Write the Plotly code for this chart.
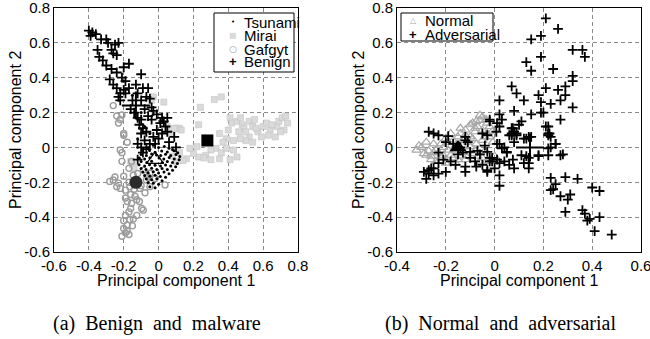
import plotly.graph_objects as go

# ---------------- data ----------------
benign_pts = [(-0.40,0.67),(-0.38,0.66),(-0.36,0.65),(-0.39,0.64),(-0.33,0.62),(-0.30,0.62),(-0.35,0.56),(-0.34,0.52),
 (-0.29,0.60),(-0.25,0.59),(-0.23,0.60),(-0.27,0.56),(-0.26,0.54),(-0.24,0.53),(-0.30,0.47),(-0.27,0.45),(-0.24,0.43),
 (-0.17,0.48),(-0.20,0.46),(-0.28,0.39),(-0.26,0.36),(-0.24,0.34),(-0.22,0.31),(-0.19,0.38),(-0.17,0.34),(-0.19,0.31),
 (-0.22,0.27),(-0.15,0.27),(-0.12,0.31),(-0.10,0.42),(-0.09,0.34),(-0.06,0.34),(-0.07,0.29),(-0.10,0.27),(-0.04,0.23),
 (-0.03,0.21),(-0.01,0.19),(0.02,0.17),(0.03,0.15),(0.04,0.12),(0.05,0.09),(0.09,0.06),(0.10,0.00),(-0.12,0.17),
 (-0.10,0.16),(-0.09,0.11),(-0.07,0.09),(-0.10,0.08),(-0.12,0.02),(-0.10,0.00),(-0.07,-0.01),(-0.05,0.02),(-0.03,0.06),
 (-0.01,0.10),(0.01,0.14),(-0.06,0.18),(-0.04,0.16),(-0.12,-0.07),(-0.08,0.04),(-0.11,0.13),(-0.14,0.20),(-0.08,0.22),
 (-0.05,0.28),(0.00,0.05),(0.02,0.08),(-0.32,0.50),(-0.21,0.40),(-0.13,0.36),(0.06,0.03),(-0.02,0.02),(-0.09,-0.03),
 (-0.23,0.29),(-0.20,0.33),(-0.16,0.22),(0.05,0.17)]

gafgyt_pts = [(-0.26,0.24),(-0.24,0.18),(-0.22,0.16),(-0.23,0.14),(-0.20,0.07),(-0.18,0.03),(-0.21,-0.03),(-0.21,-0.08),
 (-0.21,0.186),(-0.20,0.08),(-0.22,-0.015),(-0.155,-0.08),(-0.17,-0.12),(-0.26,-0.187),(-0.28,-0.195),(-0.23,-0.205),
 (-0.20,-0.165),(-0.22,-0.235),(-0.19,-0.245),(-0.165,-0.225),(-0.07,-0.187),(-0.05,-0.225),(-0.078,-0.26),(-0.107,-0.235),
 (0.037,-0.215),(-0.125,-0.30),(-0.155,-0.32),(-0.18,-0.31),(-0.097,-0.35),(-0.088,-0.36),(-0.17,-0.37),(-0.19,-0.39),
 (-0.165,-0.415),(-0.18,-0.445),(-0.20,-0.465),(-0.19,-0.49),(-0.21,-0.51),(-0.18,-0.48),(-0.145,-0.41),(-0.125,-0.39),
 (-0.135,-0.28),(-0.16,-0.27),(-0.115,-0.20),(-0.145,-0.16),(-0.087,-0.13),(-0.05,-0.148),(-0.02,-0.178),(-0.24,-0.225),
 (-0.25,-0.17),(-0.17,-0.20),(-0.14,-0.24),(-0.16,-0.35),(-0.20,-0.42),(-0.17,-0.50),(-0.10,-0.22),(-0.06,-0.17),
 (-0.11,-0.31),(-0.15,-0.45),(-0.19,-0.29),(-0.12,-0.15)]

mirai_pts = [(0.32,0.275),(0.36,0.29),(0.24,0.23),(0.23,0.13),(0.12,0.11),(0.13,0.10),(0.41,0.17),(0.42,0.14),(0.45,0.15),
 (0.47,0.17),(0.48,0.13),(0.52,0.15),(0.54,0.12),(0.55,0.16),(0.57,0.09),(0.60,0.12),(0.62,0.14),(0.64,0.10),(0.68,0.12),
 (0.69,0.15),(0.71,0.17),(0.73,0.18),(0.74,0.14),(0.72,0.10),(0.67,0.06),(0.63,0.07),(0.59,0.06),(0.52,0.06),(0.50,0.04),
 (0.47,0.05),(0.43,0.04),(0.39,0.05),(0.35,0.08),(0.40,0.10),(0.37,0.03),(0.33,-0.005),(0.36,-0.03),(0.39,-0.005),
 (0.43,-0.015),(0.30,-0.015),(0.27,-0.045),(0.23,-0.055),(0.20,-0.035),(0.18,-0.005),(0.22,0.005),(0.26,-0.06),(0.30,-0.07),
 (0.16,-0.065),(0.14,-0.075),(0.10,0.11),(0.07,0.08),(0.49,0.11),(0.50,0.09),(0.46,0.09),(0.56,0.11),(0.65,0.13),(0.70,0.09),
 (0.45,-0.055),(0.41,-0.07),(0.35,-0.065),(0.54,0.03),(-0.04,0.27),(0.03,0.26),(-0.03,0.29),(0.05,0.12),(0.09,0.11),
 (-0.15,-0.10),(-0.14,-0.12),(-0.16,-0.08),(0.12,-0.03),(0.10,-0.08),(0.08,-0.05)]

tsunami_pts = [(-0.06,0.0),(-0.03,0.012),(0.0,0.0),(0.033,0.006),(0.06,-0.004),(0.08,-0.012),
 (-0.09,-0.02),(-0.052,-0.018),(-0.02,-0.027),(0.018,-0.021),(0.05,-0.026),(0.088,-0.019),(0.11,-0.031),
 (-0.10,-0.04),(-0.07,-0.047),(-0.04,-0.038),(-0.012,-0.043),(0.012,-0.047),(0.04,-0.039),(0.07,-0.046),(0.10,-0.041),(0.122,-0.052),
 (-0.11,-0.06),(-0.08,-0.066),(-0.05,-0.059),(0.003,-0.061),(0.03,-0.067),(0.061,-0.058),(0.09,-0.066),(0.118,-0.071),
 (-0.10,-0.081),(-0.068,-0.087),(-0.04,-0.079),(0.021,-0.086),(0.05,-0.081),(0.08,-0.086),(0.108,-0.092),
 (-0.112,-0.10),(-0.08,-0.106),(-0.052,-0.099),(-0.02,-0.102),(0.011,-0.107),(0.04,-0.101),(0.07,-0.106),(0.098,-0.111),
 (-0.10,-0.121),(-0.072,-0.127),(-0.04,-0.119),(-0.01,-0.126),(0.02,-0.121),(0.05,-0.127),(0.08,-0.131),
 (-0.09,-0.141),(-0.06,-0.146),(-0.03,-0.139),(0.0,-0.147),(0.031,-0.141),(0.06,-0.151),
 (-0.08,-0.161),(-0.05,-0.166),(-0.02,-0.159),(0.01,-0.167),(0.04,-0.171),
 (-0.07,-0.181),(-0.04,-0.186),(-0.01,-0.179),(0.02,-0.191),
 (-0.06,-0.201),(-0.03,-0.206),(0.0,-0.211),(-0.05,-0.226),(-0.02,-0.231),
 (-0.12,0.05),(-0.08,0.12),(-0.10,0.20),(-0.15,0.30),(-0.05,0.08),(-0.20,0.38)]

normal_pts = [(-0.32,-0.015),(-0.30,0.00),(-0.29,-0.035),(-0.25,0.02),(-0.24,-0.015),(-0.26,-0.05),(-0.21,0.00),(-0.17,0.04),
 (-0.14,0.08),(-0.12,0.10),(-0.09,0.14),(-0.075,0.15),(-0.06,0.185),(-0.05,0.175),(-0.06,0.155),(-0.03,0.14),(-0.08,0.09),
 (-0.05,0.10),(-0.02,0.12),(-0.10,0.06),(-0.16,-0.015),(-0.18,-0.045),(-0.14,-0.05),(-0.10,0.005),(-0.075,0.02),(-0.05,0.04),
 (-0.12,-0.07),(-0.09,-0.035),(-0.06,-0.08),(-0.20,-0.09),(-0.22,-0.06),(-0.26,-0.07),(-0.28,-0.045),(-0.16,-0.09),
 (-0.13,0.04),(-0.16,0.01),(-0.19,-0.015),(-0.14,0.11),(-0.02,0.06),(-0.007,0.03),(-0.03,0.08),(-0.10,0.13),(-0.18,0.08),
 (-0.09,0.05),(-0.21,-0.045),(-0.23,-0.03),(-0.27,-0.02),(-0.11,-0.02),(-0.07,-0.05),(-0.04,-0.02),(-0.15,0.06),(-0.19,0.03),
 (-0.13,-0.03),(-0.08,0.11),(-0.035,0.16),(-0.22,0.02),(-0.17,-0.06),(-0.24,-0.08),(0.00,-0.05),(-0.02,-0.08),
 (-0.31,0.01),(-0.28,0.03),(-0.25,-0.03),(-0.20,0.05),(-0.12,0.07),(-0.07,0.12),(-0.04,0.06),(-0.01,0.09),(-0.11,0.03),
 (-0.15,-0.07),(-0.08,-0.02),(-0.05,-0.06)]

adversarial_pts = [(0.21,0.74),(0.26,0.68),(0.15,0.62),(0.19,0.64),(0.32,0.56),(0.36,0.56),(0.37,0.52),(0.19,0.52),(0.13,0.49),
 (0.15,0.44),(0.24,0.45),(0.32,0.41),(0.32,0.38),(0.07,0.35),(0.09,0.31),(0.02,0.27),(0.12,0.27),(0.18,0.30),(0.21,0.34),
 (0.26,0.33),(0.29,0.35),(0.29,0.30),(0.27,0.27),(0.23,0.25),(0.19,0.26),(0.32,0.23),(0.08,0.21),(0.15,0.19),(0.19,0.20),
 (0.20,0.20),(0.27,0.16),(0.02,0.19),(0.03,0.16),(0.11,0.15),(-0.02,0.15),(0.22,0.12),(0.22,0.08),(0.23,0.06),(0.07,0.11),
 (0.08,0.09),(0.02,0.12),(0.06,0.07),(0.13,0.05),(0.15,0.06),(0.25,0.02),(0.23,0.00),(0.28,-0.04),(0.18,-0.05),(0.14,-0.06),
 (0.23,-0.175),(0.29,-0.17),(0.34,-0.18),(0.24,-0.24),(0.23,-0.245),(0.25,-0.21),(0.27,-0.28),(0.31,-0.27),(0.30,-0.30),
 (0.29,-0.37),(0.36,-0.36),(0.37,-0.38),(0.38,-0.42),(0.39,-0.41),(0.40,-0.23),(0.43,-0.25),(0.43,-0.40),(0.41,-0.48),
 (0.48,-0.50),(0.02,-0.16),
 (-0.27,0.09),(-0.25,0.08),(-0.23,0.07),(-0.19,0.065),(-0.12,0.06),(-0.11,0.03),(-0.20,0.03),(-0.23,-0.03),(-0.21,-0.07),
 (-0.23,-0.09),(-0.25,-0.12),(-0.27,-0.13),(-0.29,-0.14),(-0.28,-0.18),(-0.25,-0.16),(-0.23,-0.15),(-0.20,-0.14),(-0.18,-0.08),
 (-0.16,-0.10),(-0.12,-0.11),(-0.12,-0.14),(-0.10,-0.06),(-0.08,-0.08),(-0.06,-0.04),(-0.07,-0.02),(-0.075,-0.11),(-0.05,-0.10),
 (-0.03,-0.13),(-0.02,-0.06),(-0.01,-0.08),(0.01,-0.07),(0.00,-0.12),(-0.03,-0.025),(-0.04,0.01),(-0.14,0.00),(-0.13,-0.03),
 (-0.15,-0.04),(-0.10,-0.025),(0.02,-0.09),(0.04,-0.08),(0.06,-0.10),(0.08,-0.12),(0.02,-0.22),(-0.02,0.16),(0.01,0.14),
 (0.07,0.07),(0.08,0.03),(0.09,0.08),(0.01,0.02),(0.03,-0.005),(0.05,-0.03),(-0.17,0.02),(-0.12,0.04),
 (-0.05,0.08),(-0.03,0.07),(0.007,0.09),(0.075,0.11),(0.10,0.13),(0.07,0.08),(0.09,0.07),(0.12,0.05),(0.14,0.06),(0.02,0.02),
 (0.04,0.00),(0.05,-0.025),(0.075,-0.07),(0.11,-0.045),(0.12,-0.09),(0.14,-0.09),(0.14,-0.12),(0.13,-0.05),(0.18,-0.045),
 (0.21,0.12),(0.22,0.07),(0.225,0.08),(0.25,0.02),(0.22,-0.005),(0.22,-0.045),(0.27,-0.045),(-0.03,-0.14),(-0.02,-0.08),
 (-0.01,-0.06),(-0.26,-0.12),(-0.27,-0.15)]

# centroids
benign_c = (-0.13, 0.24)
mirai_c = (0.28, 0.04)
gafgyt_c = (-0.13, -0.20)
tsunami_c = (-0.02, -0.07)
normal_c = (-0.15, 0.0)
adversarial_c = (0.145, 0.0)

left_xticks = [-0.6, -0.4, -0.2, 0, 0.2, 0.4, 0.6, 0.8]
left_xlabels = ["-0.6", "-0.4", "-0.2", "0", "0.2", "0.4", "0.6", "0.8"]
right_xticks = [-0.4, -0.2, 0, 0.2, 0.4, 0.6]
right_xlabels = ["-0.4", "-0.2", "0", "0.2", "0.4", "0.6"]
yticks = [-0.6, -0.4, -0.2, 0, 0.2, 0.4, 0.6, 0.8]
ylabels = ["-0.6", "-0.4", "-0.2", "0", "0.2", "0.4", "0.6", "0.8"]

left_legend = ["Tsunami", "Mirai", "Gafgyt", "Benign"]
right_legend = ["Normal", "Adversarial"]

def xs(p): return [a for a, _ in p]
def ys(p): return [b for _, b in p]

SANS = "Liberation Sans, Arial, sans-serif"
SERIF = "Liberation Serif, Times New Roman, serif"
SYM = "DejaVu Sans, sans-serif"

MIRAI_FILL, MIRAI_LINE = "#dadada", "#c2c2c2"
GAF_COL = "#9c9c9c"
NORM_COL = "#a8a8a8"

fig = go.Figure()

# ---- left panel ----
fig.add_trace(go.Scatter(x=xs(mirai_pts), y=ys(mirai_pts), mode="markers", name="Mirai",
    marker=dict(symbol="square", size=6, color=MIRAI_FILL, line=dict(color=MIRAI_LINE, width=0.6)),
    xaxis="x", yaxis="y", showlegend=False))
fig.add_trace(go.Scatter(x=xs(gafgyt_pts), y=ys(gafgyt_pts), mode="markers", name="Gafgyt",
    marker=dict(symbol="circle-open", size=6, color=GAF_COL, line=dict(width=1.4)),
    xaxis="x", yaxis="y", showlegend=False))
fig.add_trace(go.Scatter(x=xs(tsunami_pts), y=ys(tsunami_pts), mode="markers", name="Tsunami",
    marker=dict(symbol="circle", size=3, color="black"),
    xaxis="x", yaxis="y", showlegend=False))
fig.add_trace(go.Scatter(x=xs(benign_pts), y=ys(benign_pts), mode="markers", name="Benign",
    marker=dict(symbol="cross-thin", size=7, line=dict(color="black", width=1.8)),
    xaxis="x", yaxis="y", showlegend=False))
# centroids
fig.add_trace(go.Scatter(x=[benign_c[0]], y=[benign_c[1]], mode="markers", showlegend=False,
    marker=dict(symbol="cross-thin", size=20, line=dict(color="black", width=2)), xaxis="x", yaxis="y"))
fig.add_trace(go.Scatter(x=[mirai_c[0]], y=[mirai_c[1]], mode="markers", showlegend=False,
    marker=dict(symbol="square", size=12, color="black"), xaxis="x", yaxis="y"))
fig.add_trace(go.Scatter(x=[gafgyt_c[0]], y=[gafgyt_c[1]], mode="markers", showlegend=False,
    marker=dict(symbol="circle", size=13, color="#2a2a2a"), xaxis="x", yaxis="y"))
fig.add_trace(go.Scatter(x=[tsunami_c[0]], y=[tsunami_c[1]], mode="markers", showlegend=False,
    marker=dict(symbol="triangle-up-open", size=15, color="black", line=dict(width=1.2)), xaxis="x", yaxis="y"))

# ---- right panel ----
fig.add_trace(go.Scatter(x=xs(normal_pts), y=ys(normal_pts), mode="markers", name="Normal",
    marker=dict(symbol="triangle-up-open", size=8, color=NORM_COL, line=dict(width=1.2)),
    xaxis="x2", yaxis="y2", showlegend=False))
fig.add_trace(go.Scatter(x=xs(adversarial_pts), y=ys(adversarial_pts), mode="markers", name="Adversarial",
    marker=dict(symbol="cross-thin", size=7, line=dict(color="black", width=1.8)),
    xaxis="x2", yaxis="y2", showlegend=False))
fig.add_trace(go.Scatter(x=[normal_c[0]], y=[normal_c[1]], mode="markers", showlegend=False,
    marker=dict(symbol="triangle-up", size=15, color="black"), xaxis="x2", yaxis="y2"))
fig.add_trace(go.Scatter(x=[adversarial_c[0]], y=[adversarial_c[1]], mode="markers", showlegend=False,
    marker=dict(symbol="cross-thin", size=20, line=dict(color="black", width=2)), xaxis="x2", yaxis="y2"))

W, H = 650, 339
def px(x): return x / W
def py(y): return 1 - y / H

axis_common = dict(showgrid=True, gridcolor="#8a8a8a", griddash="4px,3px", gridwidth=1,
                   zeroline=False, showline=True, linecolor="black", linewidth=1, mirror=True,
                   ticks="", tickfont=dict(family=SANS, size=15, color="black"), automargin=False,
                   ticklabeloverflow="allow")

fig.update_layout(
    width=W, height=H, margin=dict(l=0, r=0, t=0, b=0),
    paper_bgcolor="white", plot_bgcolor="white", showlegend=False,
    xaxis=dict(domain=[px(54), px(298)], range=[-0.6, 0.8], tickvals=left_xticks, ticktext=left_xlabels,
               anchor="y", **axis_common),
    yaxis=dict(domain=[py(252), py(8)], range=[-0.6, 0.8], tickvals=yticks, ticktext=ylabels,
               anchor="x", **axis_common),
    xaxis2=dict(domain=[px(397), px(641)], range=[-0.4, 0.6], tickvals=right_xticks, ticktext=right_xlabels,
                anchor="y2", **axis_common),
    yaxis2=dict(domain=[py(252), py(8)], range=[-0.6, 0.8], tickvals=yticks, ticktext=ylabels,
                anchor="x2", **axis_common),
)

ann = []
def text(t, x, y, size, family=SANS, color="black", angle=0, xanchor="center"):
    ann.append(dict(text=t, x=px(x), y=py(y), xref="paper", yref="paper", textangle=angle,
                    showarrow=False, font=dict(family=family, size=size, color=color),
                    xanchor=xanchor, yanchor="middle", borderpad=0))

text("Principal component 1", 176, 280, 16)
text("Principal component 1", 519, 280, 16)
text("Principal component 2", 15, 130, 16, angle=-90)
text("Principal component 2", 358, 130, 16, angle=-90)
text("(a)\u00a0\u00a0Benign\u00a0\u00a0and\u00a0\u00a0malware", 157, 323, 20, family=SERIF)
text("(b)\u00a0\u00a0Normal\u00a0\u00a0and\u00a0\u00a0adversarial", 500, 323, 20, family=SERIF)

# ---- legends (box + symbol + label) ----
shapes = [
    dict(type="rect", xref="paper", yref="paper", x0=px(214), x1=px(294), y0=py(72), y1=py(13),
         line=dict(color="black", width=1), fillcolor="white", layer="above"),
    dict(type="rect", xref="paper", yref="paper", x0=px(401), x1=px(493), y0=py(41), y1=py(13),
         line=dict(color="black", width=1), fillcolor="white", layer="above"),
]
left_rows = [22.3, 35.7, 49.0, 61.7]
left_syms = [("\u2022", 7, "black"), ("\u25a0", 8, MIRAI_FILL), ("\u25cb", 9, GAF_COL), ("<b>+</b>", 13, "black")]
for lab, yy, (g, s, c) in zip(left_legend, left_rows, left_syms):
    text(g, 233, yy, s, family=SYM if "+" not in g else SANS, color=c)
    text(lab, 243, yy, 15, xanchor="left")
right_rows = [21.0, 34.5]
right_syms = [("\u25b3", 8, NORM_COL), ("<b>+</b>", 13, "black")]
for lab, yy, (g, s, c) in zip(right_legend, right_rows, right_syms):
    text(g, 413, yy, s, family=SYM if "+" not in g else SANS, color=c)
    text(lab, 424, yy, 15, xanchor="left")

fig.update_layout(annotations=ann, shapes=shapes)

fig.write_html("out.html")
